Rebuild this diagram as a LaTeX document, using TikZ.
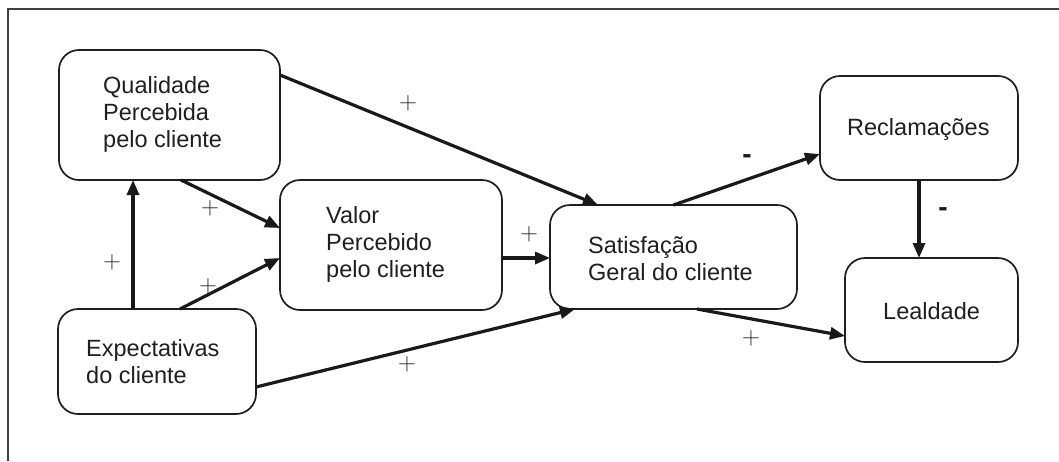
\documentclass[tikz,border=0pt]{standalone}
\usepackage{fontspec}
\setmainfont{Liberation Sans}
\usetikzlibrary{arrows.meta,calc}
\begin{document}
\begin{tikzpicture}[x=1pt,y=-1pt,
  box/.style={draw=black!88, line width=1.7pt, rounded corners=20pt, inner sep=0pt, outer sep=0pt},
  lbl/.style={anchor=base west, inner sep=0pt, align=left, font=\fontsize{23.5}{27}\selectfont, text=black!88},
  conn/.style={draw=black!90, line width=3.2pt, -{Triangle[length=15pt,width=12pt]}},
  plus/.style={inner sep=0pt, font=\fontsize{30}{30}\selectfont, text=black!85},
  minus/.style={inner sep=0pt, font=\fontsize{28}{28}\selectfont\bfseries, text=black!90}
]
\useasboundingbox (0,0) rectangle (1059,461);
% frame
\draw[draw=black!75, line width=1.5pt] (8,461) -- (8,9) -- (1059,9);
% boxes
\node[box, minimum width=221pt, minimum height=130pt] (Q) at (169.5,115) {};
\node[box, minimum width=222pt, minimum height=130pt] (V) at (391,245) {};
\node[box, minimum width=247pt, minimum height=104pt] (S) at (673.5,257) {};
\node[box, minimum width=198pt, minimum height=104pt] (R) at (919,128) {};
\node[box, minimum width=173pt, minimum height=104pt] (L) at (931.5,310) {};
\node[box, minimum width=198pt, minimum height=105pt] (E) at (157,361.5) {};
% texts (base anchor = baseline of last line)
\node[lbl] (tQ) at (103,147) {Qualidade\\Percebida\\pelo cliente};
\node[lbl] (tV) at (326,277) {Valor\\Percebido\\pelo cliente};
\node[lbl] (tS) at (588,280) {Satisfação\\Geral do cliente};
\node[lbl] (tR) at (847,135) {Reclamações};
\node[lbl] (tL) at (883,319) {Lealdade};
\node[lbl] (tE) at (86,383) {Expectativas\\do cliente};
% connectors
\coordinate (e1) at ($(E.north)+(-24,0)$);
\draw[conn] (e1) -- (e1 |- Q.south);
\draw[conn] ($(Q.south)+(11.5,0)$) -- ($(V.west)+(0,-17)$);
\draw[conn] ($(E.north)+(23,0)$) -- ($(V.west)+(0,13)$);
\draw[conn] ($(Q.east)+(0,-40)$) -- ($(S.north)+(-75.5,0)$);
\coordinate (v1) at ($(V.east)+(0,13)$);
\draw[conn] (v1) -- (v1 -| S.west);
\draw[conn] ($(E.east)+(0,25.5)$) -- ($(S.south)+(-98.5,0)$);
\draw[conn] (S.north) -- ($(R.west)+(0,26)$);
\draw[conn] (R.south) -- (R.south |- L.north);
\draw[conn] ($(S.south)+(23.5,0)$) -- ($(L.west)+(0,26)$);
% signs
\node[plus] (p1) at (112,262) {$+$};
\node[plus] (p2) at (210,208) {$+$};
\node[plus] (p3) at (208,286) {$+$};
\node[plus] (p4) at (408,103) {$+$};
\node[plus] (p5) at (529,234) {$+$};
\node[plus] (p6) at (407,364) {$+$};
\node[plus] (p7) at (751,338) {$+$};
\node[minus] (m1) at (747,159) {-};
\node[minus] (m2) at (943,212) {-};
\end{tikzpicture}
\end{document}
